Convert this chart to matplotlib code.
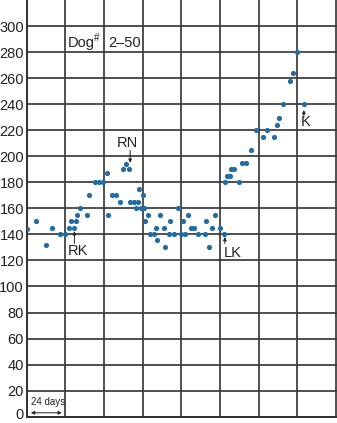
import numpy as np
import matplotlib.pyplot as plt
import matplotlib.transforms as mtransforms

plt.rcParams['font.family'] = ['Liberation Sans', 'DejaVu Sans']

# days (x) and values (y)
days = [0, 6, 12, 15.6, 20.4, 24, 26, 27.6, 29.2, 30.5, 31.5, 33, 37.3, 38.4,
        42.5, 44.9, 47.3, 50, 50.6, 53.1, 55.4, 57.7, 59.8, 61.9, 63.4, 64.2,
        66.7, 68.9, 67.8, 69.9, 70.7, 72, 72.6, 73.2, 75.3, 76.5, 78.8, 80.5,
        81, 82.5, 85.1, 85.7, 88.5, 88.9, 91.2, 94.1, 95.6, 97, 98.3, 100, 102,
        103.7, 106.1, 110.8, 111.4, 113.4, 115.1, 116.9, 120, 122.6, 123.2,
        124.5, 125.9, 127.1, 128.4, 131.6, 133.6, 136.3, 139.5, 142.3, 146.6,
        149.2, 153.2, 155.1, 156.3, 158.8, 163.4, 165.3, 168, 172]
values = [144, 150, 132, 145, 140, 140, 145, 150, 145, 150, 155, 160, 155, 170,
          180, 180, 180, 187, 155, 170, 170, 165, 190, 194, 190, 165, 165, 165,
          160, 175, 160, 170, 160, 150, 155, 140, 140, 145, 136, 155, 145, 130,
          140, 150, 140, 160, 140, 150, 140, 155, 145, 145, 140, 140, 150, 130,
          145, 155, 145, 140, 180, 185, 185, 190, 190, 180, 195, 195, 205, 220,
          215, 220, 215, 224, 229, 240, 258, 264, 280, 240]

yticks = list(range(0, 301, 20))
xgrid = list(range(0, 193, 24))

fig = plt.figure(figsize=(3.37, 4.23), dpi=100)
ax = fig.add_axes([26.7 / 337, 6.3 / 423, 310 / 337, 416.7 / 423])

ax.set_xlim(0, 192.4)
ax.set_ylim(0, 320)
ax.set_xticks(xgrid)
ax.set_yticks(yticks)
ax.set_xticklabels([])
ax.tick_params(axis='both', length=0, pad=2, labelsize=10.5, labelcolor='#222222')
ax.grid(True, color='#3a3a3a', linewidth=1.25)
ax.set_axisbelow(True)
for side in ['top', 'right']:
    ax.spines[side].set_visible(False)
for side in ['left', 'bottom']:
    ax.spines[side].set_color('#333333')
    ax.spines[side].set_linewidth(1.4)

# nudge the "0" label up so it stays inside the picture
zero_label = ax.get_yticklabels()[0]
zero_label.set_transform(zero_label.get_transform() +
                         mtransforms.ScaledTranslation(0, 2 / 72, fig.dpi_scale_trans))

ax.scatter(days, values, s=14, color='#236ca3', zorder=3, linewidths=0)

txt = dict(fontsize=10.5, color='#222222')
arr = dict(arrowstyle='-|>', lw=0.7, color='#222222', mutation_scale=5,
           shrinkA=0, shrinkB=0)

ax.text(25.5, 287, 'Dog', ha='left', va='center', **txt)
ax.text(42.0, 291, '#', ha='left', va='center', fontsize=7, color='#222222')
ax.text(50.6, 287, '2\u201350', ha='left', va='center', **txt)

ax.text(32, 127.5, 'RK', ha='center', va='center', **txt)
ax.annotate('', xy=(29.6, 142.5), xytext=(29.6, 133), arrowprops=arr)

ax.text(62.3, 210, 'RN', ha='center', va='center', **txt)
ax.annotate('', xy=(64.2, 195), xytext=(64.2, 204.5), arrowprops=arr)

ax.text(128, 126, 'LK', ha='center', va='center', **txt)
ax.annotate('', xy=(123, 138), xytext=(123, 133), arrowprops=arr)

ax.text(173, 226.5, 'K', ha='center', va='center', **txt)
ax.annotate('', xy=(172, 235.5), xytext=(172, 229.5), arrowprops=arr)

ax.text(2.6, 11, '24 days', ha='left', va='center', fontsize=7, color='#222222')
ax.annotate('', xy=(2.6, 3), xytext=(21.8, 3),
            arrowprops=dict(arrowstyle='<|-|>', lw=0.7, color='#222222',
                            mutation_scale=5, shrinkA=0, shrinkB=0))

fig.savefig('out.png', dpi=100)
